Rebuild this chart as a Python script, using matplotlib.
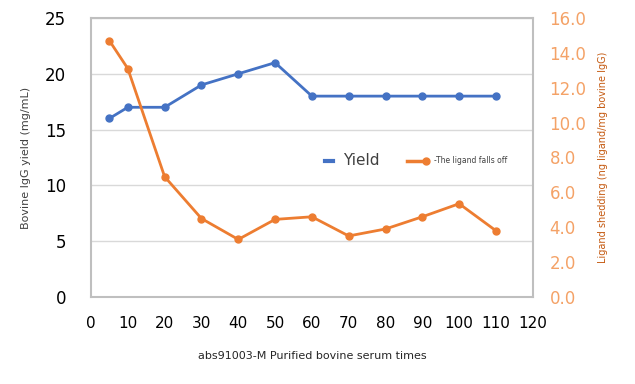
import matplotlib.pyplot as plt
from matplotlib.lines import Line2D

# data
times = [5, 10, 20, 30, 40, 50, 60, 70, 80, 90, 100, 110]
yield_vals = [16, 17, 17, 19, 20, 21, 18, 18, 18, 18, 18, 18]
ligand_vals = [14.7, 13.1, 6.9, 4.5, 3.3, 4.45, 4.6, 3.5, 3.9, 4.6, 5.35, 3.8]

blue = '#4472C4'
orange = '#ED7D31'

fig = plt.figure(figsize=(6.35, 3.84), dpi=100)
ax = fig.add_axes([0.1433, 0.2266, 0.6957, 0.7265])

ax.plot(times, yield_vals, color=blue, lw=2, marker='o', ms=5, zorder=3)
ax.set_xlim(0, 120)
ax.set_ylim(0, 25)
ax.set_xticks(range(0, 121, 10))
ax.set_yticks(range(0, 26, 5))
ax.tick_params(axis='x', length=0, pad=14, labelsize=11)
ax.tick_params(axis='y', length=0, pad=18, labelsize=12)
ax.yaxis.grid(True, color='#d9d9d9', lw=1)
ax.set_axisbelow(True)
for s in ax.spines.values():
    s.set_color('#bfbfbf')
    s.set_linewidth(1.5)
ax.set_ylabel('Bovine IgG yield (mg/mL)', fontsize=8, color='#404040', labelpad=10)
ax.set_xlabel('abs91003-M Purified bovine serum times', fontsize=8, color='#262626', labelpad=14)

ax2 = ax.twinx()
ax2.plot(times, ligand_vals, color=orange, lw=2, marker='o', ms=5, zorder=3)
ax2.set_ylim(0, 16)
ax2.set_yticks(range(0, 17, 2))
ax2.set_yticklabels([f'{v:.1f}' for v in range(0, 17, 2)])
ax2.tick_params(axis='y', length=0, pad=12, labelsize=12, labelcolor='#F4A267')
for s in ax2.spines.values():
    s.set_visible(False)
ax2.set_ylabel('Ligand shedding (ng ligand/mg bovine IgG)', fontsize=7, color='#C55A11', labelpad=8)

# legend drawn by hand to get the mixed font sizes
ly = 0.581
fig.add_artist(Line2D([0.512, 0.524], [ly, ly], transform=fig.transFigure, color=blue, lw=3))
fig.text(0.540, ly, 'Yield', color='#404040', fontsize=11, va='center')
fig.add_artist(Line2D([0.641, 0.671], [ly, ly], transform=fig.transFigure, color=orange, lw=2.5,
                      marker='o', ms=5, markevery=[1]))
fig.text(0.684, ly + 0.002, '-The ligand falls off', color='#404040', fontsize=5.5, va='center')

plt.savefig('out.png', dpi=100)
